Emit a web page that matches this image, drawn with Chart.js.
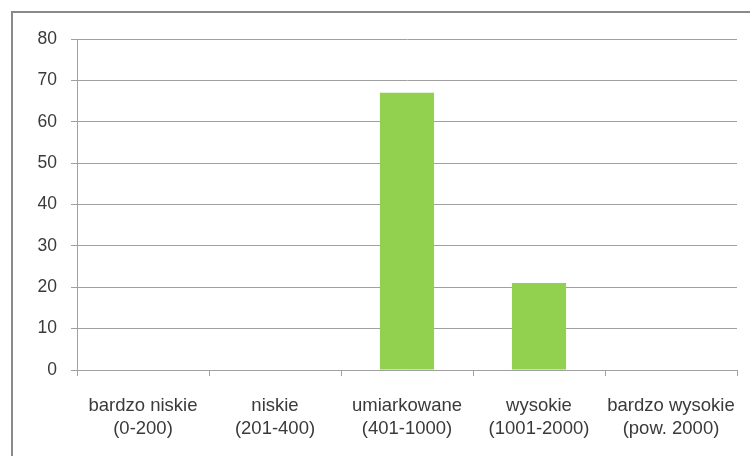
<!DOCTYPE html>
<html>
<head>
<meta charset="utf-8">
<script src="https://cdn.jsdelivr.net/npm/chart.js@4/dist/chart.umd.min.js"></script>
<style>
    html, body { margin: 0; padding: 0; background: #fff; }
    #wrap { width: 750px; height: 456px; }
</style>
</head>
<body>
<div id="wrap"><canvas id="bar_chart" width="750" height="456"></canvas></div>
<script>
const categories = [
    ["bardzo niskie", "(0-200)"],
    ["niskie", "(201-400)"],
    ["umiarkowane", "(401-1000)"],
    ["wysokie", "(1001-2000)"],
    ["bardzo wysokie", "(pow. 2000)"]
];
const values = [0, 0, 67, 21, 0];
const yMin = 0;
const yMax = 80;
const yStep = 10;

// frame round the whole chart, as in the original spreadsheet export
const framePlugin = {
    id: 'frame',
    beforeDraw(chart) {
        const ctx = chart.ctx;
        ctx.save();
        ctx.strokeStyle = '#8a8a8a';
        ctx.lineWidth = 2;
        ctx.strokeRect(12, 12, 760, 460);
        ctx.restore();
    }
};

const onload = () => {
    const ctx = document.getElementById('bar_chart').getContext('2d');
    new Chart(ctx, {
        type: 'bar',
        data: {
            labels: categories,
            datasets: [{
                data: values,
                backgroundColor: '#92d050',
                borderWidth: 0,
                categoryPercentage: 1,
                barPercentage: 0.41
            }]
        },
        options: {
            responsive: false,
            animation: false,
            devicePixelRatio: 1,
            layout: { padding: { left: 0, right: 13, top: 39, bottom: 0 } },
            plugins: {
                legend: { display: false },
                tooltip: { enabled: false }
            },
            scales: {
                x: {
                    grid: {
                        offset: true,
                        drawOnChartArea: false,
                        drawTicks: true,
                        tickLength: 6,
                        color: '#a0a0a0'
                    },
                    border: { color: '#a0a0a0', width: 1 },
                    ticks: {
                        color: '#3a3a3a',
                        font: { family: 'Liberation Sans, Arial', size: 18.5, lineHeight: 1.25 },
                        padding: 18,
                        maxRotation: 0,
                        autoSkip: false
                    },
                    afterFit: (s) => {
                        s.height = 86;
                        s.paddingLeft = 0;
                        s.paddingRight = 0;
                    }
                },
                y: {
                    min: yMin,
                    max: yMax,
                    grid: {
                        color: '#a0a0a0',
                        tickLength: 6
                    },
                    border: { color: '#a0a0a0', width: 1 },
                    ticks: {
                        stepSize: yStep,
                        color: '#3a3a3a',
                        font: { family: 'Liberation Sans, Arial', size: 17.5 },
                        padding: 14
                    },
                    afterFit: (s) => { s.width = 77; }
                }
            }
        },
        plugins: [framePlugin]
    });
};

document.addEventListener('DOMContentLoaded', onload);
</script>
</body>
</html>
